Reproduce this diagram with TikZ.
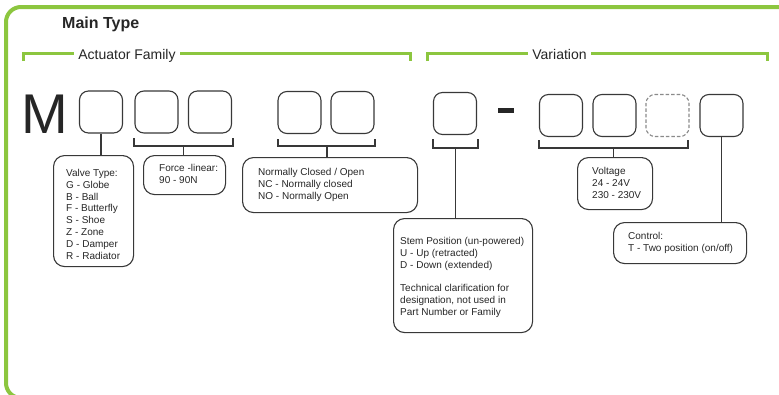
\documentclass[tikz,border=0pt]{standalone}
\usepackage{fontspec}
\setmainfont{Liberation Sans}
\definecolor{grn}{HTML}{8CC63F}
\definecolor{ink}{HTML}{262626}
\definecolor{edge}{HTML}{383838}
\definecolor{dashgray}{HTML}{8A8A8A}
\begin{document}
\begin{tikzpicture}[x=1pt,y=-1pt,
  slot/.style={draw=edge, line width=1.1pt, rounded corners=9pt, minimum width=43pt, minimum height=42pt, inner sep=0},
  info/.style={draw=edge, line width=1.1pt, rounded corners=11pt, inner sep=0, anchor=north west},
  txt/.style={anchor=north west, inner sep=0, align=left, text=ink, font=\fontsize{10}{11.8}\selectfont},
  wire/.style={draw=edge, line width=1.1pt},
  greenbar/.style={draw=grn, line width=3pt},
  head/.style={inner sep=0, inner xsep=4pt, fill=white, text=ink, font=\fontsize{14}{16}\selectfont}
]
\useasboundingbox (0,0) rectangle (779,394);
\begin{scope}
  \clip (0,0) rectangle (779,394);
  \draw[draw=grn, line width=4pt, rounded corners=15pt] (6,7) rectangle (800,398);
\end{scope}

% title
\node[anchor=base west, inner sep=0, text=ink, font=\fontsize{16}{18}\selectfont\bfseries] (title) at (62,28) {Main Type};

% green brackets
\draw[greenbar] (23,61) -- (23,53) -- (410,53) -- (410,61);
\node[head, anchor=base] (fam) at (127,59) {Actuator Family};
\draw[greenbar] (427,61) -- (427,53) -- (767,53) -- (767,61);
\node[head, anchor=base] (var) at (559.5,59) {Variation};

% M
\node[anchor=base west, inner sep=0, text=ink, font=\fontsize{56}{60}\selectfont] (M) at (21,133) {M};

% slots
\node[slot] (b1) at (101,112) {};
\node[slot] (b2) at (156.5,112) {};
\node[slot] (b3) at (210,112) {};
\node[slot] (b4) at (299.5,112.5) {};
\node[slot] (b5) at (352.5,112.5) {};
\node[slot] (b6) at (455,113.5) {};
\node[fill=ink, minimum width=16pt, minimum height=5pt, inner sep=0] (dash) at (506,110.5) {};
\node[slot] (b7) at (561,115.5) {};
\node[slot] (b8) at (614.5,115.5) {};
\node[slot, draw=dashgray, dash pattern=on 3.5pt off 2pt] (b9) at (667.5,115.5) {};
\node[slot] (b10) at (721.5,115.5) {};

% info boxes
\node[info, minimum width=80pt, minimum height=111pt] (valve) at (53,155) {};
\node[txt] (valvet) at (66,169) {Valve Type:\\G - Globe\\B - Ball\\F - Butterfly\\S - Shoe\\Z - Zone\\D - Damper\\R - Radiator};

\node[info, minimum width=82pt, minimum height=39pt] (force) at (143,155) {};
\node[txt] (forcet) at (159,164) {Force -linear:\\90 - 90N};

\node[info, minimum width=175pt, minimum height=55pt] (nc) at (242,157) {};
\node[txt] (nct) at (258,168) {Normally Closed / Open\\NC - Normally closed\\NO - Normally Open};

\node[info, minimum width=139pt, minimum height=114pt] (stem) at (393,218) {};
\node[txt] (stemt) at (400,237) {Stem Position (un-powered)\\U - Up (retracted)\\D - Down (extended)\\[11.8pt]Technical clarification for\\designation, not used in\\Part Number or Family};

\node[info, minimum width=75pt, minimum height=52pt] (volt) at (577,157) {};
\node[txt] (voltt) at (592,167) {Voltage\\24 - 24V\\230 - 230V};

\node[info, minimum width=133pt, minimum height=41pt] (ctrl) at (613,222) {};
\node[txt] (ctrlt) at (628,232) {Control:\\T - Two position (on/off)};

% connectors
\draw[wire] (b1.south) -- (b1.south |- valve.north);

\draw[wire] (134,138) -- (134,146) -- (233,146) -- (233,138);
\coordinate (m23) at (183.5,146);
\draw[wire] (m23) -- (m23 |- force.north);

\draw[wire] (278,139) -- (278,146) -- (375,146) -- (375,139);
\coordinate (m45) at (327,146);
\draw[wire] (m45) -- (m45 |- nc.north);

\draw[wire] (433,139) -- (433,148) -- (478,148) -- (478,139);
\coordinate (m6) at (455.5,148);
\draw[wire] (m6) -- (m6 |- stem.north);

\draw[wire] (539,140) -- (539,148) -- (688,148) -- (688,140);
\coordinate (m79) at (613.5,148);
\draw[wire] (m79) -- (m79 |- volt.north);

\draw[wire] (b10.south) -- (b10.south |- ctrl.north);
\end{tikzpicture}
\end{document}
